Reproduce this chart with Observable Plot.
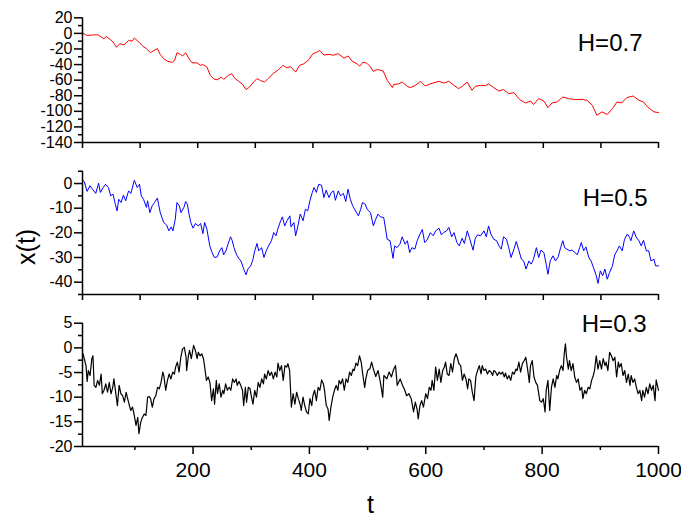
<!DOCTYPE html>
<html><head><meta charset="utf-8">
<script src="https://cdn.jsdelivr.net/npm/d3@7"></script>
<script src="https://cdn.jsdelivr.net/npm/@observablehq/plot@0.6"></script>
<style>
body{margin:0;background:#fff;}
#chart{position:relative;width:681px;height:521px;background:#fff;}
#chart svg{position:absolute;left:0;}
</style></head><body><div id="chart"></div>
<script>
// ---- data: [t, x(t)] ----
const seriesH07 = [[0,0.5],[8,-2.7],[17,-2],[27,-1.8],[37,-6.9],[41,-4],[49,-8.2],[53,-11.2],[59,-17.6],[65,-13.3],[72,-14.6],[80,-9],[86,-10],[90,-6],[98,-11.2],[105,-16.7],[111,-19.5],[118,-24.8],[124,-22],[130,-19.5],[135,-27],[141,-32.5],[148,-35.9],[156,-37.2],[160,-34.5],[164,-24.8],[170,-27],[174,-29],[179,-24.8],[185,-32.5],[190,-37.6],[199,-38],[205,-41],[209,-40],[216,-43.2],[222,-53.9],[228,-58.6],[234,-59.5],[241,-56],[245,-59],[253,-53.9],[259,-51.7],[264,-57.4],[271,-61.5],[277,-64.5],[284,-72.2],[290,-68.8],[297,-62.4],[303,-58],[309,-60.5],[316,-62.4],[323,-57.4],[332,-50.9],[341,-46.2],[348,-41],[355,-44.3],[361,-42.5],[370,-49.7],[377,-41],[384,-39.1],[393,-33.8],[400,-26.1],[407,-24],[412,-21.9],[419,-27.7],[428,-27],[436,-28],[444,-26.1],[454,-31.7],[461,-29],[468,-35.6],[477,-39.1],[481,-42.2],[487,-37],[493,-38],[499,-42],[505,-48.7],[512,-46.2],[522,-48.3],[529,-60.3],[538,-69.6],[540,-65.7],[549,-64.7],[555,-62.4],[564,-68],[569,-69.6],[578,-66.7],[587,-61.5],[595,-67.5],[604,-64.7],[619,-61.5],[627,-63.7],[636,-61.5],[645,-66.7],[653,-70.9],[659,-68],[668,-62.4],[676,-73],[682,-68],[691,-66.7],[700,-67],[705,-64.7],[714,-69.6],[723,-74],[731,-72],[740,-77.3],[749,-76],[759,-85],[769,-89.3],[778,-86.8],[783,-91.3],[792,-83.7],[801,-86.8],[808,-95.2],[815,-89.3],[824,-88],[834,-81.6],[844,-83.7],[856,-85],[867,-84.6],[876,-85.9],[885,-92.2],[893,-105],[902,-100.7],[911,-104],[920,-96.5],[928,-88],[936,-89.3],[945,-82.4],[956,-80.3],[966,-85.9],[974,-88],[981,-94.4],[992,-100.7],[1000,-101.6]];

const seriesH05 = [[0,1.35],[3,0.8],[8,-3.2],[13,-0.9],[16,-1.9],[23,-4],[28,0.1],[31,-3.6],[36,-1.6],[40,-0.3],[45,-1.6],[49,-5],[53,-4.3],[57,-8.4],[60,-11.1],[63,-6.4],[67,-7.7],[71,-4.7],[75,-7],[80,-3],[84,-4],[90,1.35],[95,-1.6],[99,-0.3],[102,-5],[106,-6.4],[111,-9.7],[113,-7],[117,-11.8],[121,-9],[125,-7.7],[130,-5.9],[132,-8.4],[135,-11.8],[141,-15.8],[146,-16.8],[150,-19.2],[154,-17.6],[157,-19.2],[161,-14.5],[164,-7.7],[168,-9],[171,-11.8],[176,-9.7],[179,-7.3],[182,-8.4],[185,-12.4],[188,-15.8],[192,-18.1],[196,-16.2],[201,-17.2],[205,-16.2],[209,-20.3],[212,-15.8],[216,-18.5],[221,-25.3],[225,-28],[229,-30],[234,-29.7],[238,-27.3],[242,-26],[245,-28.9],[249,-27.3],[253,-24.3],[257,-21.6],[260,-23.2],[263,-26],[267,-28.6],[271,-30.3],[275,-31.4],[280,-34.7],[284,-37],[287,-34.7],[292,-33.4],[296,-30.7],[299,-27.3],[303,-24.3],[306,-27.3],[311,-26],[315,-30],[319,-27.3],[323,-25.3],[328,-23.2],[332,-19.9],[336,-21.2],[339,-18.5],[344,-15.1],[347,-13.5],[351,-17.2],[355,-15.1],[360,-13.1],[362,-17.6],[367,-15.8],[370,-21.2],[374,-17.2],[378,-12.4],[383,-15.1],[387,-10.4],[391,-11.1],[395,-6.8],[399,-3.6],[402,-1.6],[406,-3.6],[410,-0.3],[415,-0.7],[419,-5.7],[423,-2.7],[428,-5.7],[432,-3.6],[436,-3],[439,-6.8],[444,-3],[448,-5],[453,-4],[457,-7.3],[461,-2.3],[465,-6.4],[469,-9],[474,-11.1],[479,-13.1],[483,-10.4],[486,-7.7],[491,-8.4],[494,-10.4],[500,-11.8],[505,-17.2],[509,-14.5],[513,-12.4],[517,-13.5],[523,-13.8],[529,-22.6],[534,-23.2],[539,-30.3],[542,-25.3],[546,-26],[551,-24.6],[555,-21.6],[560,-24.6],[564,-23.2],[568,-28],[572,-26],[577,-26.6],[581,-23.2],[586,-20.5],[590,-18.6],[594,-23.9],[598,-23],[604,-19.9],[609,-21.2],[613,-19.2],[619,-18.1],[623,-20.8],[627,-19.9],[632,-19.2],[636,-17.8],[641,-21.6],[645,-19.9],[650,-23.9],[654,-25.3],[659,-22.2],[663,-24.3],[668,-19.2],[672,-22.2],[678,-27],[682,-22.2],[686,-20.8],[691,-21.2],[697,-19.2],[701,-21.6],[705,-17.2],[709,-20.5],[714,-22.6],[719,-23.2],[723,-25.3],[727,-26.6],[731,-21.6],[736,-22.6],[740,-26],[744,-30],[749,-26.6],[753,-23.5],[757,-26.6],[762,-30.7],[766,-31.4],[770,-34.7],[775,-31.4],[779,-32.7],[783,-30.7],[788,-26],[792,-30],[796,-27],[801,-28],[805,-32.7],[808,-36.8],[812,-31.4],[817,-29.3],[821,-31.4],[826,-29.7],[830,-26],[834,-23.2],[837,-26],[841,-26.6],[846,-27.3],[850,-27],[855,-28],[859,-28.9],[863,-26],[866,-23.9],[870,-27.3],[874,-25.7],[879,-30],[883,-31.4],[888,-34.7],[892,-37.4],[895,-40.5],[899,-35.4],[903,-37.4],[907,-34.7],[911,-38.8],[915,-36.1],[920,-33.4],[924,-28.9],[928,-27.3],[932,-25.3],[937,-27.3],[941,-22.6],[946,-20.5],[950,-21.9],[952,-23.2],[957,-19.2],[961,-21.6],[966,-23.2],[970,-25.3],[974,-23],[979,-27.3],[983,-27.3],[987,-31.4],[992,-30.7],[995,-33.4],[1000,-33.4]];

const seriesH03 = [[11,-1.2],[13,-2.2],[16,-3.6],[18,-6.8],[20,-4.6],[23,-5.6],[26,-2.2],[28,-1.6],[30,-7.6],[33,-8],[36,-6.6],[39,-7.6],[42,-5.3],[44,-9.3],[47,-8.6],[50,-7.3],[53,-9],[56,-7],[59,-9.3],[62,-8],[64,-6.3],[67,-9],[70,-11.7],[73,-7.6],[76,-9.3],[79,-9.7],[82,-11],[85,-9],[87,-10],[90,-11.4],[93,-12.7],[96,-12],[99,-13.7],[102,-15.7],[105,-14.1],[107,-17.4],[110,-15.1],[113,-14.1],[116,-13.4],[119,-13.7],[122,-10],[125,-9.9],[127,-10.3],[130,-12],[133,-10.3],[136,-9.7],[139,-8],[142,-8.3],[145,-7],[148,-4.9],[150,-5.8],[153,-8.6],[156,-6.6],[159,-5.3],[162,-6.3],[165,-4.9],[168,-5.3],[170,-3.9],[173,-2.9],[176,-4.9],[179,-1.9],[182,-0.2],[185,0.1],[188,-1.9],[189,-4.6],[192,-1.6],[194,-0.5],[197,-2.2],[201,0.5],[204,-0.5],[207,-2.2],[209,-0.9],[212,-1.6],[215,-1.2],[218,-2.2],[220,-3.9],[223,-6.6],[226,-5.9],[229,-7],[232,-10.7],[235,-8.3],[237,-11.4],[240,-6.6],[242,-9.3],[245,-7.3],[248,-10],[251,-8.6],[253,-9.3],[256,-7.3],[259,-8.6],[262,-8],[265,-8.6],[268,-6.3],[271,-7],[274,-6.3],[276,-7.6],[279,-6.8],[282,-7.6],[285,-8.6],[287,-11.7],[290,-8],[292,-11],[295,-8],[298,-8.3],[300,-9.7],[303,-11.4],[306,-8.6],[309,-10],[312,-7],[315,-8],[318,-6.3],[321,-7.3],[323,-5.3],[326,-6.3],[329,-4.6],[332,-5.6],[335,-4.9],[338,-6.3],[341,-4.9],[344,-5.9],[346,-3.1],[349,-4.6],[352,-3.6],[355,-6.6],[358,-3.6],[361,-3.9],[363,-3.2],[366,-4.6],[369,-12],[372,-9.3],[375,-11.4],[378,-9],[381,-10.3],[384,-11.4],[386,-12.7],[389,-10],[392,-11.7],[395,-13],[398,-13.4],[401,-10.3],[404,-11.7],[406,-9.7],[409,-8.6],[412,-10.7],[415,-8],[418,-8.6],[421,-6.5],[424,-7.3],[426,-8.6],[429,-11.7],[432,-12.4],[434,-14.7],[437,-12],[440,-10],[443,-8.6],[446,-7.6],[449,-8.6],[451,-6.6],[454,-7.3],[457,-6.3],[460,-8.6],[463,-6.3],[466,-7],[469,-4.9],[472,-5.6],[475,-4.3],[477,-4.6],[480,-3.1],[483,-3.6],[486,-1.6],[489,-2.9],[492,-5.6],[495,-8],[497,-6.3],[500,-4.6],[504,-4.2],[507,-2.9],[510,-4.3],[514,-5.8],[518,-4.6],[522,-7],[526,-10],[528,-5.6],[533,-6.3],[537,-4.9],[541,-5.9],[544,-4.6],[548,-3.6],[551,-7.6],[556,-6.3],[560,-7.6],[564,-8.6],[567,-9.7],[571,-9.3],[575,-10.3],[579,-13],[582,-11],[585,-12.4],[587,-14.4],[590,-11.7],[593,-10.7],[596,-12],[600,-9.3],[603,-10.3],[606,-8],[609,-8.6],[611,-6.6],[614,-8.6],[617,-3.9],[620,-6.6],[623,-4.3],[626,-7],[629,-4.6],[632,-3.9],[634,-2.9],[637,-5.3],[640,-5.6],[643,-3.2],[646,-4.9],[649,-2.2],[652,-1.2],[654,-1.9],[657,-3.2],[660,-3.6],[663,-6.6],[666,-5.3],[669,-6.3],[672,-8.3],[674,-6.3],[677,-6.6],[680,-9],[683,-10.7],[686,-5.9],[689,-4.6],[692,-3.6],[695,-5.3],[697,-3.6],[700,-4.6],[703,-4.3],[706,-5.3],[709,-4.6],[712,-4.9],[715,-5.6],[717,-4.6],[720,-4.9],[723,-5.6],[726,-4.9],[729,-5.3],[732,-4.9],[735,-5.9],[737,-5.1],[740,-6.3],[743,-5.6],[746,-6.6],[749,-4.9],[752,-5.3],[755,-4.3],[757,-4.6],[760,-2.9],[763,-4.9],[766,-3.2],[769,-2.6],[772,-1.9],[775,-4.3],[778,-7],[780,-3.6],[783,-2.6],[786,-5.9],[789,-7],[792,-7.6],[796,-10.7],[799,-11],[802,-10.3],[805,-13],[807,-8.6],[810,-6.6],[813,-12.7],[816,-8],[819,-6.3],[822,-8],[825,-5.6],[827,-6.3],[830,-4.6],[833,-3.6],[836,-4.6],[838,-1.2],[840,0.8],[842,-1.9],[845,-4.3],[847,-2.6],[850,-4.6],[853,-3.2],[856,-5.9],[859,-7],[862,-6.3],[865,-8.6],[868,-8],[870,-10.3],[873,-8.6],[876,-9.3],[879,-8],[882,-8.3],[885,-6.6],[888,-5.6],[890,-4.6],[893,-1.6],[896,-4.3],[899,-2.6],[902,-4.3],[905,-2.2],[908,-3.6],[910,-2.9],[913,-4.6],[916,-0.9],[919,-1.6],[922,-2.6],[925,-1.9],[928,-5.9],[931,-2.9],[933,-3.9],[936,-3.2],[939,-5.6],[942,-4.6],[945,-7],[948,-5.3],[951,-7.6],[953,-5.6],[956,-7],[959,-6.3],[962,-8],[965,-9.3],[968,-8.6],[971,-10.7],[973,-8.6],[976,-10],[979,-8],[982,-9.3],[985,-7.3],[988,-8.6],[991,-7.6],[994,-10.7],[996,-6.5],[1000,-8.6]];

const panelLabels = ["H=0.7", "H=0.5", "H=0.3"];
const xTicksTop = [0,100,200,300,400,500,600,700,800,900,1000];
const xTicksMajor = [200,400,600,800,1000];
const xTicksMinor = [100,300,500,700,900];
const yTicks1 = [20,0,-20,-40,-60,-80,-100,-120,-140];
const yMinor1 = [10,-10,-30,-50,-70,-90,-110,-130];
const yTicks2 = [0,-10,-20,-30,-40];
const yMinor2 = [5,-5,-15,-25,-35,-45];
const yTicks3 = [5,0,-5,-10,-15,-20];
const yMinor3 = [2.5,-2.5,-7.5,-12.5,-17.5];

const FONT = "'Liberation Sans', Arial, Helvetica, sans-serif";
const chart = document.getElementById("chart");

function panel(o) {
  const data = o.series.map(([t, v]) => ({t, v}));
  const marks = [
    Plot.line(data, {x: "t", y: "v", stroke: o.color, strokeWidth: o.lineWidth}),
    Plot.ruleX([o.xDomain[0]], {stroke: "black", strokeWidth: 1.5}),
    Plot.ruleY([o.yDomain[0]], {stroke: "black", strokeWidth: 1.5}),
    Plot.axisY({ticks: o.yMajor, tickSize: 8, tickPadding: 2, fontSize: 16, tickFormat: d => String(d), label: null, strokeWidth: 1.5}),
    Plot.axisY({ticks: o.yMinor, tickSize: 4, fill: "none", label: null, strokeWidth: 1.5}),
    Plot.text([o.label], {text: d => d, frameAnchor: "top-right", dx: o.labelDx, dy: o.labelDy, fontSize: 24})
  ];
  if (o.bottom) {
    marks.push(
      Plot.axisX({ticks: xTicksMajor, tickSize: 8, tickPadding: 8, fontSize: 21, tickFormat: d => String(d), label: null, strokeWidth: 1.5}),
      Plot.axisX({ticks: xTicksMinor, tickSize: 4, fill: "none", label: null, strokeWidth: 1.5}),
      Plot.text(["t"], {text: d => d, frameAnchor: "bottom", lineAnchor: "top", dy: 49, fontSize: 25})
    );
  } else {
    marks.push(Plot.axisX({ticks: xTicksTop, tickSize: 6, fill: "none", label: null, strokeWidth: 1.5}));
  }
  if (o.extra) marks.push(...o.extra);
  const svg = Plot.plot({
    width: 681, height: o.height,
    marginLeft: 82, marginRight: 23, marginTop: o.mTop, marginBottom: o.mBottom,
    x: {domain: o.xDomain},
    y: {domain: o.yDomain},
    style: {fontFamily: FONT, background: "white", overflow: "visible", color: "black"},
    marks
  });
  svg.style.top = o.top + "px";
  chart.appendChild(svg);
}

panel({series: seriesH07, color: "#ff0000", lineWidth: 1, label: panelLabels[0], labelDx: -16, labelDy: 16,
  xDomain: [0, 1000], yDomain: [-140, 20], yMajor: yTicks1, yMinor: yMinor1,
  top: 0, height: 150, mTop: 17.3, mBottom: 8});

panel({series: seriesH05, color: "#0000ff", lineWidth: 1, label: panelLabels[1], labelDx: -11, labelDy: 18,
  xDomain: [0, 1000], yDomain: [-45, 5], yMajor: yTicks2, yMinor: yMinor2,
  top: 150, height: 150, mTop: 20.7, mBottom: 6,
  extra: [Plot.text(["x(t)"], {text: d => d, frameAnchor: "left", textAnchor: "middle", rotate: -90, dx: -56, dy: 14, fontSize: 25})]});

panel({series: seriesH03, color: "#000000", lineWidth: 1.2, label: panelLabels[2], labelDx: -12, labelDy: -8,
  xDomain: [10, 1000], yDomain: [-20, 5], yMajor: yTicks3, yMinor: yMinor3,
  top: 300, height: 221, mTop: 22.7, mBottom: 75, bottom: true});
</script>
</body></html>
